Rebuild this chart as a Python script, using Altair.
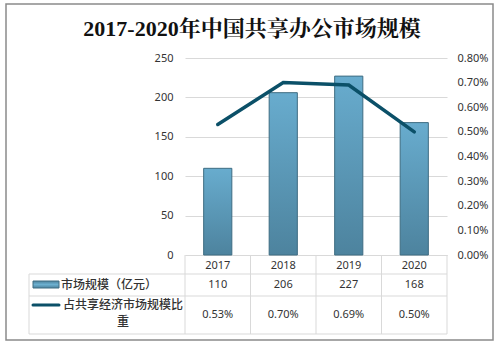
import altair as alt
import pandas as pd

title_text = "2017-2020年中国共享办公市场规模"
years = ["2017", "2018", "2019", "2020"]
market_size = [110, 206, 227, 168]
share = [0.0053, 0.0070, 0.0069, 0.0050]
size_ticks = [0, 50, 100, 150, 200, 250]
share_ticks = [0.0, 0.001, 0.002, 0.003, 0.004, 0.005, 0.006, 0.007, 0.008]
series_names = ["市场规模（亿元）", "占共享经济市场规模比重"]

df = pd.DataFrame({"year": years, "size": market_size, "share": share})
df["size_label"] = [str(v) for v in market_size]
df["share_label"] = [f"{v * 100:.2f}%" for v in share]
one = pd.DataFrame({"a": [0]})

W, H = 262, 197
FONT = "Noto Sans, Noto Sans CJK SC, sans-serif"
GRID = "#d9d9d9"
LINE_C = "#0b5068"
bar_fill = alt.Gradient(
    gradient="linear",
    stops=[alt.GradientStop(color="#68acce", offset=0),
           alt.GradientStop(color="#4d839e", offset=1)],
    x1=0, x2=0, y1=0, y2=1,
)

xscale = alt.Scale(domain=years, paddingInner=0, paddingOuter=0)
x_axis = alt.Axis(title=None, labelAngle=0, ticks=False, domain=True, domainColor=GRID,
                  labelPadding=4, labelFontSize=11, labelColor="#333333", labelFont=FONT, grid=False)


def X(**kw):
    return alt.X("year:N", scale=xscale, axis=x_axis, **kw)


base = alt.Chart(df)

bars = base.mark_bar(fill=bar_fill, stroke="#3e6c82", strokeWidth=1, width={"band": 0.43}).encode(
    x=X(),
    y=alt.Y("size:Q", scale=alt.Scale(domain=[0, 250], nice=False),
            axis=alt.Axis(title=None, values=size_ticks, grid=True, gridColor=GRID, domain=False,
                          ticks=False, labelPadding=12, labelFontSize=11, labelColor="#333333",
                          labelFont=FONT)),
)

line = base.mark_line(color=LINE_C, strokeWidth=3.5, strokeCap="round").encode(
    x=X(),
    y=alt.Y("share:Q", scale=alt.Scale(domain=[0, 0.008], nice=False),
            axis=alt.Axis(title=None, orient="right", values=share_ticks, format=".2%", grid=False,
                          domain=False, ticks=False, labelPadding=10, labelFontSize=11,
                          labelColor="#333333", labelFont=FONT)),
)

# table
vlines = base.mark_rule(color=GRID, strokeWidth=1).encode(
    x=X(bandPosition=0),
    y=alt.value(H), y2=alt.value(276),
)
vline_end = alt.Chart(one).mark_rule(color=GRID, strokeWidth=1).encode(
    x=alt.value(W), y=alt.value(H), y2=alt.value(276))
vline_left = alt.Chart(one).mark_rule(color=GRID, strokeWidth=1).encode(
    x=alt.value(-156), y=alt.value(216), y2=alt.value(276))
hlines = [
    alt.Chart(one).mark_rule(color=GRID, strokeWidth=1).encode(
        x=alt.value(-156), x2=alt.value(W), y=alt.value(yy))
    for yy in (216, 238, 276)
]

row1 = base.mark_text(fontSize=11, font=FONT, color="#333333").encode(
    x=X(), y=alt.value(227), text="size_label:N")
row2 = base.mark_text(fontSize=11, font=FONT, color="#333333").encode(
    x=X(), y=alt.value(257), text="share_label:N")

lab1 = alt.Chart(one).mark_text(text=series_names[0], fontSize=12, font=FONT, align="left",
                                 color="#333333", fontWeight=500).encode(
    x=alt.value(-124), y=alt.value(227))
lab2 = alt.Chart(one).mark_text(text=[series_names[1][:10], series_names[1][10:]], fontSize=12,
                                 font=FONT, align="center", baseline="middle", lineHeight=17,
                                 color="#333333", fontWeight=500).encode(
    x=alt.value(-62), y=alt.value(247))

sw_bar = alt.Chart(one).mark_rect(fill=alt.Gradient(
    gradient="linear",
    stops=[alt.GradientStop(color="#4d839e", offset=0),
           alt.GradientStop(color="#6cb0d0", offset=0.5),
           alt.GradientStop(color="#4d839e", offset=1)],
    x1=0, x2=0, y1=0, y2=1), stroke="#3e6c82", strokeWidth=1).encode(
    x=alt.value(-152), x2=alt.value(-126), y=alt.value(223), y2=alt.value(230))
sw_line = alt.Chart(one).mark_rule(color=LINE_C, strokeWidth=3, strokeCap="round").encode(
    x=alt.value(-152), x2=alt.value(-126), y=alt.value(247))

border = alt.Chart(one).mark_rect(fill="transparent", stroke="#8a8a8a", strokeWidth=1.5).encode(
    x=alt.value(-179), x2=alt.value(308), y=alt.value(-54), y2=alt.value(282))

title = alt.Chart(one).mark_text(
    text=title_text, fontSize=22, fontWeight="bold",
    font="Liberation Serif, Noto Serif CJK SC, Noto Sans CJK SC, serif",
    color="#111111", align="center", baseline="middle").encode(
    x=alt.value(67), y=alt.value(-29))

chart = alt.layer(
    border, title, bars, line, vlines, vline_end, vline_left, *hlines,
    row1, row2, lab1, lab2, sw_bar, sw_line,
).resolve_scale(y="independent").properties(
    width=W, height=H,
    autosize=alt.AutoSizeParams(type="none"),
    padding={"left": 185, "top": 58, "right": 54, "bottom": 91},
    background="white",
).configure_view(stroke=None)

chart.save("out.html", embed_options={"renderer": "svg", "actions": False})
